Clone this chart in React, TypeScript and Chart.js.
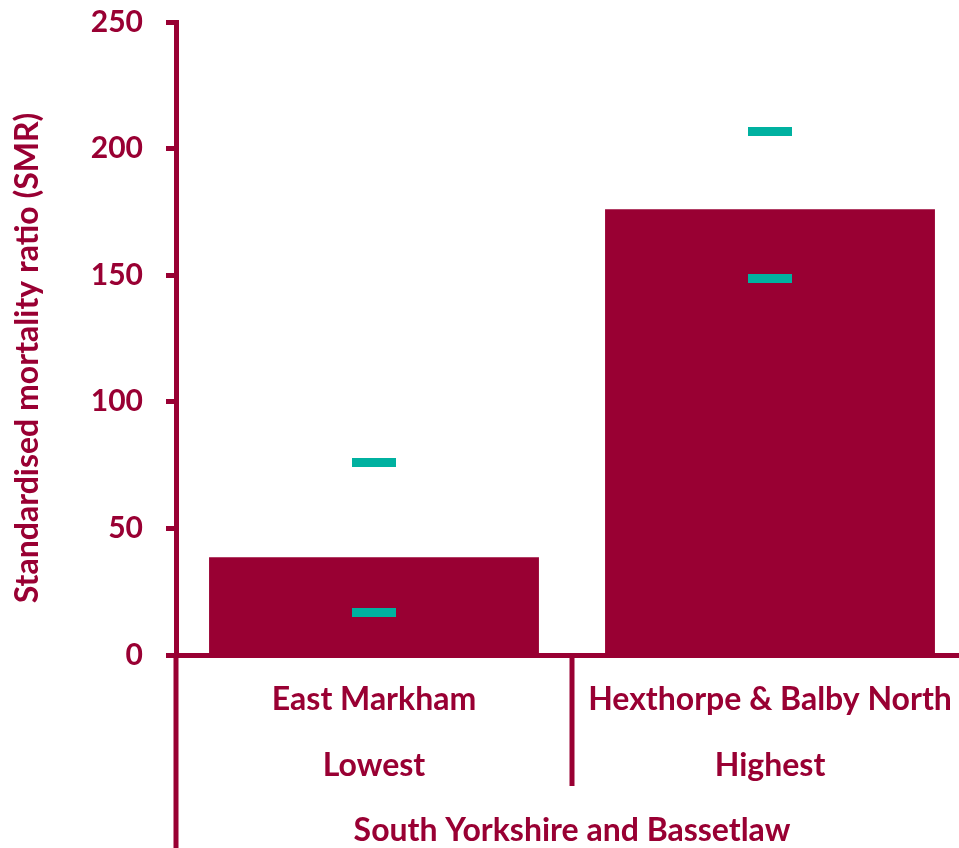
import React, { useEffect, useRef } from "react";
import { Chart, registerables } from "chart.js";

Chart.register(...registerables);

// ---- data ----
const areaNames = ["East Markham", "Hexthorpe & Balby North"];
const rankLabels = ["Lowest", "Highest"];
const groupLabel = "South Yorkshire and Bassetlaw";
const smrValues = [38.6, 176.0];
const lowerCI = [16.8, 148.7];
const upperCI = [76.0, 206.8];
const yMin = 0;
const yMax = 250;
const yStep = 50;
const yTitle = "Standardised mortality ratio (SMR)";

// ---- style ----
const MAROON = "#990033";
const TEAL = "#00B1A0";
const FONT_FAMILY = "Lato";
const TICK_SIZE = 30;
const LABEL_SIZE = 32;
const ROW_H = 66;
const CANVAS_W = 980;
const CANVAS_H = 848;

const dividerPlugin = {
  id: "dividers",
  afterDraw(chart: any) {
    const xs = chart.scales.x;
    const { ctx, chartArea } = chart;
    const n = chart.data.labels.length;
    ctx.save();
    ctx.strokeStyle = MAROON;
    ctx.lineWidth = 5;
    for (let i = 0; i <= n; i++) {
      let px: number;
      if (i === 0) px = chartArea.left;
      else if (i === n) px = chartArea.right;
      else px = (xs.getPixelForValue(i - 1) + xs.getPixelForValue(i)) / 2;
      const y2 = i === 0 || i === n ? chart.height : chartArea.bottom + ROW_H * 2 - 1;
      ctx.beginPath();
      ctx.moveTo(px, chartArea.bottom);
      ctx.lineTo(px, y2);
      ctx.stroke();
    }
    ctx.restore();
  },
};

export default function App() {
  const ref = useRef<HTMLCanvasElement | null>(null);

  useEffect(() => {
    if (!ref.current) return;
    const tickFont = { family: FONT_FAMILY, size: TICK_SIZE, weight: "bold" as const };
    const labelFont = { family: FONT_FAMILY, size: LABEL_SIZE, weight: "bold" as const };
    const chart = new Chart(ref.current, {
      type: "bar",
      data: {
        labels: areaNames.map((n, i) => [n, rankLabels[i]]),
        datasets: [
          {
            type: "bar",
            label: "SMR",
            data: smrValues,
            backgroundColor: MAROON,
            borderWidth: 0,
            categoryPercentage: 1,
            barPercentage: 0.833,
            order: 2,
          } as any,
          {
            type: "line",
            label: "Lower CI",
            data: lowerCI,
            showLine: false,
            pointStyle: "line",
            pointRadius: 22,
            pointBorderWidth: 9,
            pointBorderColor: TEAL,
            pointBackgroundColor: TEAL,
            order: 1,
          } as any,
          {
            type: "line",
            label: "Upper CI",
            data: upperCI,
            showLine: false,
            pointStyle: "line",
            pointRadius: 22,
            pointBorderWidth: 9,
            pointBorderColor: TEAL,
            pointBackgroundColor: TEAL,
            order: 1,
          } as any,
        ],
      },
      options: {
        responsive: false,
        animation: false,
        layout: { autoPadding: false, padding: { top: 22, right: 12, bottom: 0, left: 0 } },
        plugins: {
          legend: { display: false },
          tooltip: { enabled: false },
        },
        scales: {
          x: {
            offset: true,
            grid: { display: false },
            border: { display: true, color: MAROON, width: 5 },
            ticks: {
              color: MAROON,
              font: { ...labelFont, lineHeight: ROW_H / LABEL_SIZE },
              padding: 4,
              maxRotation: 0,
              autoSkip: false,
            },
            title: {
              display: true,
              text: groupLabel,
              color: MAROON,
              font: { ...labelFont, lineHeight: 1 },
              padding: { top: 0, bottom: 1 },
            },
            afterFit(scale: any) {
              scale.height = CANVAS_H - 655;
              scale.paddingLeft = 0;
              scale.paddingRight = 0;
            },
          },
          y: {
            min: yMin,
            max: yMax,
            ticks: { stepSize: yStep, color: MAROON, font: tickFont, padding: 23 },
            grid: {
              drawOnChartArea: false,
              drawTicks: true,
              tickLength: 10,
              tickWidth: 5,
              tickColor: MAROON,
            },
            border: { display: true, color: MAROON, width: 5 },
            title: {
              display: true,
              text: yTitle + "     ",
              color: MAROON,
              font: { ...labelFont, lineHeight: 1.2 },
              padding: { top: 8, bottom: 0 },
            },
            afterFit(scale: any) {
              scale.width = 176;
              scale.paddingTop = 0;
              scale.paddingBottom = 0;
            },
          },
        },
      },
      plugins: [dividerPlugin],
    });
    return () => chart.destroy();
  }, []);

  return (
    <div
      style={{
        position: "fixed",
        left: 0,
        top: 0,
        width: 959,
        height: 848,
        overflow: "hidden",
        background: "#fff",
      }}
    >
      <canvas ref={ref} width={CANVAS_W} height={CANVAS_H} style={{ display: "block" }} />
    </div>
  );
}
